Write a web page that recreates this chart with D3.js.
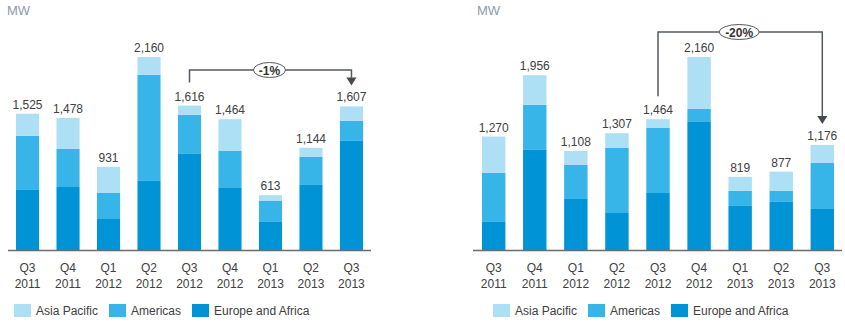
<!DOCTYPE html>
<html>
<head>
<meta charset="utf-8">
<script src="https://cdn.jsdelivr.net/npm/d3@7"></script>
<style>
  body { margin: 0; background: #fff; }
  svg { font-family: "Liberation Sans", Arial, sans-serif; }
</style>
</head>
<body>
<svg width="845" height="324"></svg>
<script>
"use strict";

const quarters = ['Q3', 'Q4', 'Q1', 'Q2', 'Q3', 'Q4', 'Q1', 'Q2', 'Q3'];
const years = ['2011', '2011', '2012', '2012', '2012', '2012', '2013', '2013', '2013'];
const seriesNames = ['Europe and Africa', 'Americas', 'Asia Pacific'];

// left chart
const leftEurope = [672, 705, 347, 773, 1075, 694, 314, 728, 1221];
const leftAmericas = [605, 426, 291, 1187, 437, 414, 235, 314, 224];
const leftAsia = [248, 347, 293, 200, 104, 356, 64, 102, 162];
const leftChange = {from: 4, to: 8, label: '-1%'};

// right chart
const rightEurope = [314, 1120, 571, 414, 638, 1433, 493, 538, 459];
const rightAmericas = [549, 504, 381, 728, 728, 146, 168, 123, 515];
const rightAsia = [407, 332, 156, 165, 98, 581, 158, 216, 202];
const rightChange = {from: 4, to: 8, label: '-20%'};

const colors = {
    'Asia Pacific': '#addff5',
    'Americas': '#38b5e8',
    'Europe and Africa': '#0093d6'
};

const svg = d3.select('svg');
const fmt = d3.format(',');

function drawChart(opts) {
    const rows = quarters.map((q, i) => ({
        key: i,
        'Europe and Africa': opts.europe[i],
        'Americas': opts.americas[i],
        'Asia Pacific': opts.asia[i]
    }));
    const totals = rows.map(d => d3.sum(seriesNames, s => d[s]));

    const x = d3.scaleBand()
        .domain(d3.range(quarters.length))
        .range(opts.barRange)
        .paddingInner(0.43)
        .paddingOuter(0);
    const y = d3.scaleLinear().domain([0, 2160]).range([250, 57]);

    const g = svg.append('g');

    g.append('text')
        .attr('x', opts.mwX)
        .attr('y', 15)
        .attr('fill', '#8d9aab')
        .attr('font-size', '13px')
        .text('MW');

    const stacked = d3.stack().keys(seriesNames)(rows);

    g.selectAll('g.layer')
        .data(stacked)
        .join('g')
        .attr('class', 'layer')
        .attr('fill', d => colors[d.key])
        .selectAll('rect')
        .data(d => d)
        .join('rect')
        .attr('x', d => x(d.data.key))
        .attr('y', d => y(d[1]))
        .attr('width', x.bandwidth())
        .attr('height', d => y(d[0]) - y(d[1]));

    g.selectAll('text.total')
        .data(totals)
        .join('text')
        .attr('class', 'total')
        .attr('x', (d, i) => x(i) + x.bandwidth() / 2)
        .attr('y', d => y(d) - 5)
        .attr('text-anchor', 'middle')
        .attr('font-size', '12px')
        .attr('fill', '#404040')
        .text(d => fmt(d));

    // baseline
    g.append('line')
        .attr('x1', opts.axisRange[0])
        .attr('x2', opts.axisRange[1])
        .attr('y1', y(0) + 0.5)
        .attr('y2', y(0) + 0.5)
        .attr('stroke', '#6b6b6b')
        .attr('stroke-width', 1.3);

    const ticks = g.selectAll('text.tick')
        .data(quarters)
        .join('text')
        .attr('class', 'tick')
        .attr('x', (d, i) => x(i) + x.bandwidth() / 2)
        .attr('text-anchor', 'middle')
        .attr('font-size', '12px')
        .attr('fill', '#404040');
    ticks.append('tspan')
        .attr('x', (d, i) => x(i) + x.bandwidth() / 2)
        .attr('y', 272)
        .text(d => d);
    ticks.append('tspan')
        .attr('x', (d, i) => x(i) + x.bandwidth() / 2)
        .attr('y', 287.5)
        .text((d, i) => years[i]);

    // change bracket
    const c = opts.change;
    const x1 = x(c.from) + x.bandwidth() / 2,
        x2 = x(c.to) + x.bandwidth() / 2,
        yStart = y(totals[c.from]) - 23,
        yEnd = y(totals[c.to]) - 21;
    g.append('path')
        .attr('d', `M${x1},${yStart}V${opts.bracketY}H${x2}V${yEnd - 7}`)
        .attr('fill', 'none')
        .attr('stroke', '#555a60')
        .attr('stroke-width', 1.5);
    g.append('path')
        .attr('d', `M${x2 - 5},${yEnd - 8}L${x2 + 5},${yEnd - 8}L${x2},${yEnd}Z`)
        .attr('fill', '#454a50');
    const mx = (x1 + x2) / 2 - 1;
    g.append('ellipse')
        .attr('cx', mx)
        .attr('cy', opts.bracketY)
        .attr('rx', opts.ellipseRx)
        .attr('ry', 7.5)
        .attr('fill', '#fff')
        .attr('stroke', '#555a60')
        .attr('stroke-width', 1);
    g.append('text')
        .attr('x', mx)
        .attr('y', opts.bracketY + 4.5)
        .attr('text-anchor', 'middle')
        .attr('font-size', '12px')
        .attr('font-weight', 'bold')
        .attr('fill', '#333')
        .text(c.label);

    // legend
    const legend = g.selectAll('g.legend')
        .data(['Asia Pacific', 'Americas', 'Europe and Africa'])
        .join('g')
        .attr('class', 'legend')
        .attr('transform', (d, i) => `translate(${opts.legendX[i]},304)`);
    legend.append('rect')
        .attr('width', 17)
        .attr('height', 13)
        .attr('fill', d => colors[d]);
    legend.append('text')
        .attr('x', 22)
        .attr('y', 11)
        .attr('font-size', '12px')
        .attr('fill', '#404040')
        .text(d => d);
}

drawChart({
    europe: leftEurope, americas: leftAmericas, asia: leftAsia,
    change: leftChange,
    barRange: [16, 363], axisRange: [8, 371],
    mwX: 7, bracketY: 70, ellipseRx: 16,
    legendX: [14, 109, 192]
});

drawChart({
    europe: rightEurope, americas: rightAmericas, asia: rightAsia,
    change: rightChange,
    barRange: [482, 834], axisRange: [473, 842],
    mwX: 477, bracketY: 32, ellipseRx: 20,
    legendX: [493, 588, 671]
});
</script>
</body>
</html>
